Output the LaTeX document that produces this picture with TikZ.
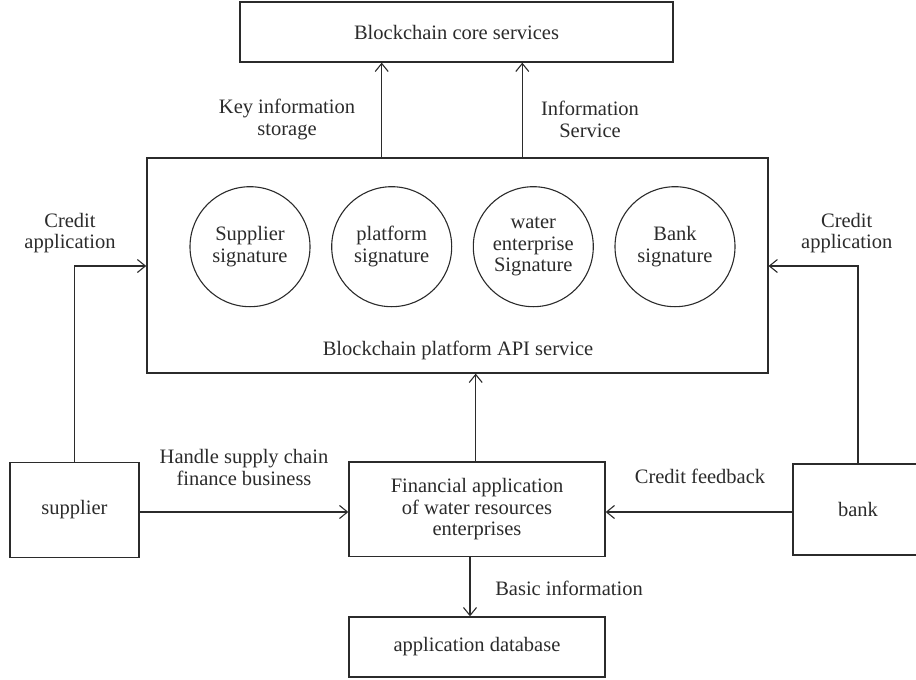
\documentclass[tikz,border=0pt]{standalone}
\usepackage{fontspec}
\setmainfont{Liberation Serif}
\usetikzlibrary{arrows.meta}
\definecolor{ink}{HTML}{2B2B2B}
\tikzset{
  every node/.style={text=ink},
  txt/.style={align=center, font=\fontsize{20.5}{21.5}\selectfont, inner sep=0pt},
  box/.style={draw=ink, line width=1.3pt, rectangle, inner sep=0pt, txt},
  sig/.style={draw=ink, line width=1.1pt, circle, minimum size=120pt, inner sep=0pt, txt},
  conn/.style={draw=ink, line width=1.2pt},
  arr/.style={conn, -{Straight Barb[length=8pt,width=13pt,line width=1.1pt]}}
}
\begin{document}
\begin{tikzpicture}[x=1pt,y=-1pt]
\useasboundingbox (0,0) rectangle (916,680);
% boxes
\node[box, minimum width=433pt, minimum height=60pt] (core) at (456.5,32) {Blockchain core services};
\node[box, minimum width=621pt, minimum height=215pt] (api) at (457.4,265.5) {};
\node[txt] (apitxt) at (458,350) {Blockchain platform API service};
\node[sig] (s1) at (250,246.7) {Supplier\\signature};
\node[sig] (s2) at (391.7,246.7) {platform\\signature};
\node[sig] (s3) at (533.3,246.7) {water\\enterprise\\Signature};
\node[sig] (s4) at (675,246.7) {Bank\\signature};
\node[box, minimum width=129pt, minimum height=94.5pt] (sup) at (74.5,510) {supplier};
\node[box, minimum width=256pt, minimum height=94.5pt] (fin) at (477,509.2) {Financial application\\of water resources\\enterprises};
\node[box, minimum width=130pt, minimum height=91pt] (bank) at (858,509.5) {bank};
\node[box, minimum width=256pt, minimum height=60pt] (db) at (477,647) {application database};
% helper coordinates
\coordinate (k1) at (381.7,0);
\coordinate (k2) at (522.3,0);
\coordinate (kf) at (475.7,0);
\coordinate (kd) at (470,0);
\coordinate (ly) at (0,266);
\coordinate (ry) at (0,266);
\coordinate (my) at (0,512);
% connectors
\draw[arr] (api.north -| k1) -- (core.south -| k1);
\draw[arr] (api.north -| k2) -- (core.south -| k2);
\draw[arr] (sup.north) |- (api.west |- ly);
\draw[arr] (bank.north) |- (api.east |- ry);
\draw[arr] (fin.north -| kf) -- (api.south -| kf);
\draw[arr] (sup.east |- my) -- (fin.west |- my);
\draw[arr] (bank.west |- my) -- (fin.east |- my);
\draw[arr] (fin.south -| kd) -- (db.north -| kd);
% labels
\node[txt] (l1) at (287,119.5) {Key information\\storage};
\node[txt] (l2) at (590,119.5) {Information\\Service};
\node[txt] (l3) at (70,233) {Credit\\application};
\node[txt] (l4) at (846.7,233) {Credit\\application};
\node[txt] (l5) at (244,467.5) {Handle supply chain\\finance business};
\node[txt] (l6) at (700,476.7) {Credit feedback};
\node[txt] (l7) at (569,588) {Basic information};
\end{tikzpicture}
\end{document}
